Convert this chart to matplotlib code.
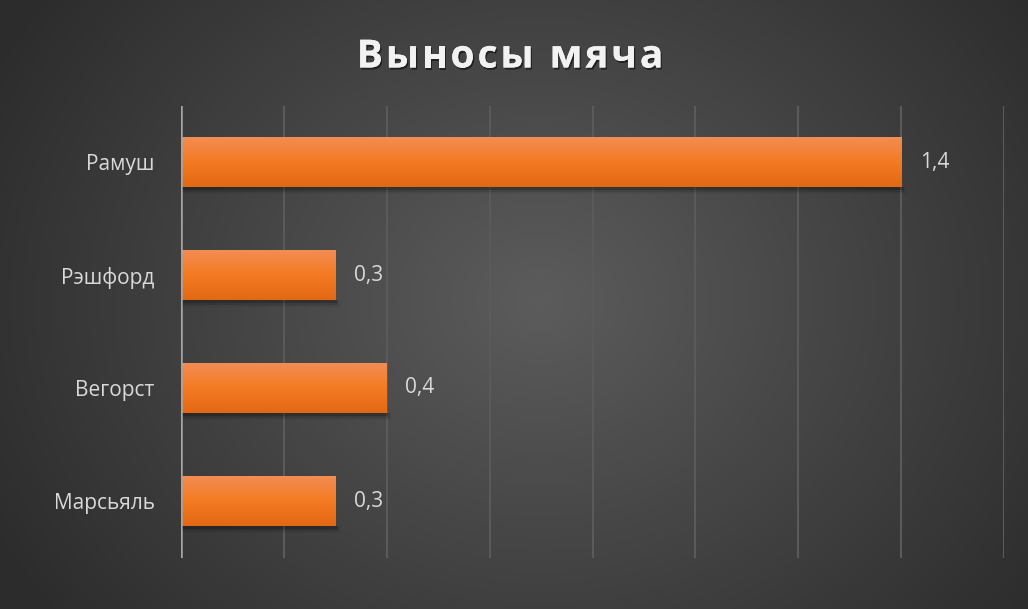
import numpy as np
import matplotlib
matplotlib.use("Agg")
import matplotlib.pyplot as plt
from matplotlib.patches import Rectangle
import matplotlib.patheffects as pe

categories = ["Рамуш", "Рэшфорд", "Вегорст", "Марсьяль"]
values = [1.4, 0.3, 0.4, 0.3]
value_labels = ["1,4", "0,3", "0,4", "0,3"]
title = "Выносы мяча"

W, H = 1028, 609
fig = plt.figure(figsize=(W / 100, H / 100), dpi=100)
FAM = ["Open Sans", "DejaVu Sans"]

# background radial gradient
bg = fig.add_axes([0, 0, 1, 1], zorder=0)
yy, xx = np.mgrid[0:H, 0:W]
r = np.sqrt(((xx - 540) / 620.0) ** 2 + ((yy - 300) / 520.0) ** 2)
r = np.clip(r, 0, 1)
c_in = np.array([0x5c, 0x5c, 0x5c]) / 255
c_out = np.array([0x2c, 0x2c, 0x2c]) / 255
img = c_in[None, None, :] * (1 - r[..., None]) + c_out[None, None, :] * r[..., None]
bg.imshow(img, extent=[0, W, H, 0], aspect="auto")
bg.set_xlim(0, W)
bg.set_ylim(H, 0)
bg.axis("off")

ax = fig.add_axes([181 / W, (H - 557.5) / H, (1004 - 181) / W, (557.5 - 105.5) / H], zorder=1)
ax.patch.set_alpha(0)
ax.set_xlim(0, 1.6)
ypos = np.arange(len(categories))
ax.set_ylim(len(categories) - 0.5, -0.5)

for x in np.arange(0.2, 1.61, 0.2):
    ax.axvline(x, color="#5a5a5a", lw=1.5, zorder=1)
ax.axvline(0, color="#a6a6a6", lw=1.8, zorder=4)

bar_h = 0.45
bars = ax.barh(ypos, values, height=bar_h, color="#f47c24", zorder=3)

grad = np.linspace(0, 1, 256)
top = np.array([0xf2, 0x8e, 0x55]) / 255
mid = np.array([0xf4, 0x7b, 0x22]) / 255
bot = np.array([0xe2, 0x68, 0x14]) / 255
gimg = np.zeros((256, 1, 3))
for i, t in enumerate(grad):
    if t < 0.5:
        gimg[i, 0] = top * (1 - t / 0.5) + mid * (t / 0.5)
    else:
        gimg[i, 0] = mid * (1 - (t - 0.5) / 0.5) + bot * ((t - 0.5) / 0.5)

for b, v, lab in zip(bars, values, value_labels):
    x0, y0 = b.get_x(), b.get_y()
    w, h = b.get_width(), b.get_height()
    for k, a in enumerate([0.18, 0.12, 0.06]):
        sh = Rectangle((x0, y0 + h), w + 0.003 * (k + 1), 0.02 * (k + 1), color="black", alpha=a, lw=0, zorder=2)
        ax.add_patch(sh)
    im = ax.imshow(gimg, extent=[x0, x0 + w, y0 + h, y0], aspect="auto", zorder=3.5, interpolation="bilinear")
    im.set_clip_path(b)
    ax.text(v + 0.036, y0 + h / 2, lab, color="#d9d9d9", fontsize=15, va="center", ha="left",
            family=FAM, zorder=5)

ax.set_yticks(ypos)
ax.set_yticklabels(categories, color="#d9d9d9", fontsize=15, family=FAM)
ax.tick_params(axis="y", length=0, pad=19)
ax.set_xticks([])
for s in ax.spines.values():
    s.set_visible(False)

# title with letter spacing, centered at x ~ 510
renderer = fig.canvas.get_renderer()
tracking = 3.0
fs = 28
widths = []
tmp = []
for ch in title:
    t = bg.text(0, 0, ch, fontsize=fs, fontweight="bold", family=FAM)
    bb = t.get_window_extent(renderer=renderer)
    tmp.append(t)
for t in tmp:
    t.remove()
# measure advances via cumulative prefix widths
def prefix_width(s):
    if not s:
        return 0.0
    t = bg.text(0, 0, s, fontsize=fs, fontweight="bold", family=FAM)
    w = t.get_window_extent(renderer=renderer).width
    t.remove()
    return w
adv = [prefix_width(title[:i]) for i in range(len(title) + 1)]
total = adv[-1] + tracking * (len(title) - 1)
xstart = 510 - total / 2
for i, ch in enumerate(title):
    x = xstart + adv[i] + tracking * i
    bg.text(x, 57, ch, fontsize=fs, fontweight="bold", family=FAM, color="#f2f2f2",
            ha="left", va="center", zorder=5,
            path_effects=[pe.withSimplePatchShadow(offset=(1, -1.5), shadow_rgbFace="black", alpha=0.5), pe.Normal()])

fig.savefig("out.png", dpi=100)
